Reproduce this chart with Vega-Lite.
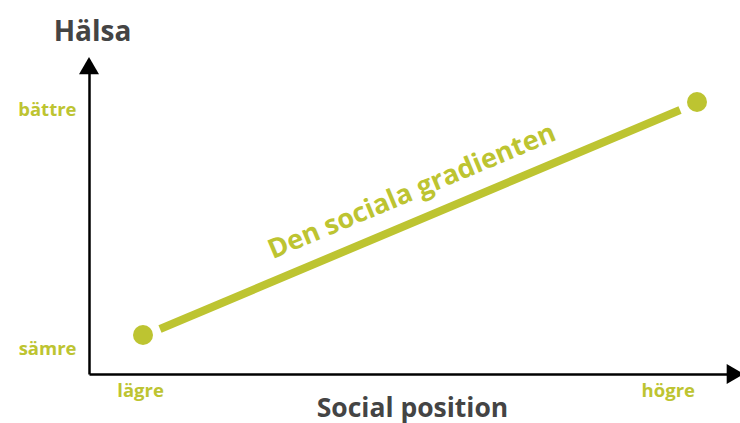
{
  "$schema": "https://vega.github.io/schema/vega-lite/v6.json",
  "width": 646,
  "height": 314,
  "autosize": {"type": "none"},
  "padding": {"left": 89, "top": 60, "right": 5, "bottom": 49},
  "background": "white",
  "config": {
    "view": {"stroke": null},
    "font": "Open Sans"
  },
  "datasets": {
    "points": [
      {"pos": 8.36, "health": 12.42},
      {"pos": 94.12, "health": 86.62}
    ],
    "line": [
      {"pos": 10.99, "health": 14.33},
      {"pos": 91.49, "health": 84.08}
    ],
    "label": [
      {"pos": 50.0, "health": 57.96, "text": "Den sociala gradienten"}
    ],
    "arrowUp": [{"pos": 0, "health": 98.2}],
    "arrowRight": [{"pos": 100.05, "health": 0}]
  },
  "layer": [
    {
      "data": {"name": "line"},
      "mark": {"type": "line", "color": "#BDC431", "strokeWidth": 8, "strokeCap": "butt"},
      "encoding": {
        "x": {
          "field": "pos", "type": "quantitative",
          "scale": {"domain": [0, 100], "nice": false, "zero": false},
          "axis": {
            "title": "Social position",
            "titleFont": "Open Sans", "titleFontSize": 26.5, "titleFontWeight": "bold", "titleColor": "#444444",
            "titleX": 323, "titleY": 42, "titleAlign": "center", "titleBaseline": "alphabetic",
            "values": [7.9, 89.6],
            "labelExpr": "datum.value < 50 ? 'lägre' : 'högre'",
            "labelFont": "Open Sans", "labelFontSize": 18.5, "labelFontWeight": "bold", "labelColor": "#BDC431",
            "labelPadding": 7, "labelAlign": "center", "labelBaseline": "top",
            "ticks": false, "grid": false,
            "domainColor": "#000000", "domainWidth": 2.5
          }
        },
        "y": {
          "field": "health", "type": "quantitative",
          "scale": {"domain": [0, 100], "nice": false, "zero": false},
          "axis": {
            "title": "Hälsa",
            "titleFont": "Open Sans", "titleFontSize": 28, "titleFontWeight": "bold", "titleColor": "#444444",
            "titleAngle": 0, "titleX": 3, "titleY": -20, "titleAlign": "center", "titleBaseline": "alphabetic",
            "values": [8.28, 84.08],
            "labelExpr": "datum.value < 50 ? 'sämre' : 'bättre'",
            "labelFont": "Open Sans", "labelFontSize": 18.5, "labelFontWeight": "bold", "labelColor": "#BDC431",
            "labelPadding": 13, "labelBaseline": "middle",
            "ticks": false, "grid": false,
            "domainColor": "#000000", "domainWidth": 2.5
          }
        }
      }
    },
    {
      "data": {"name": "points"},
      "mark": {"type": "point", "shape": "circle", "filled": true, "opacity": 1, "color": "#BDC431", "size": 400},
      "encoding": {
        "x": {"field": "pos", "type": "quantitative"},
        "y": {"field": "health", "type": "quantitative"}
      }
    },
    {
      "data": {"name": "label"},
      "mark": {"type": "text", "angle": -22.8, "font": "Open Sans", "fontSize": 27, "fontWeight": "bold", "color": "#BDC431", "align": "center", "baseline": "middle"},
      "encoding": {
        "x": {"field": "pos", "type": "quantitative"},
        "y": {"field": "health", "type": "quantitative"},
        "text": {"field": "text"}
      }
    },
    {
      "data": {"name": "arrowUp"},
      "mark": {"type": "point", "shape": "triangle-up", "filled": true, "opacity": 1, "color": "#000000", "size": 400, "clip": false},
      "encoding": {
        "x": {"field": "pos", "type": "quantitative"},
        "y": {"field": "health", "type": "quantitative"}
      }
    },
    {
      "data": {"name": "arrowRight"},
      "mark": {"type": "point", "shape": "triangle-right", "filled": true, "opacity": 1, "color": "#000000", "size": 400, "clip": false},
      "encoding": {
        "x": {"field": "pos", "type": "quantitative"},
        "y": {"field": "health", "type": "quantitative"}
      }
    }
  ]
}
